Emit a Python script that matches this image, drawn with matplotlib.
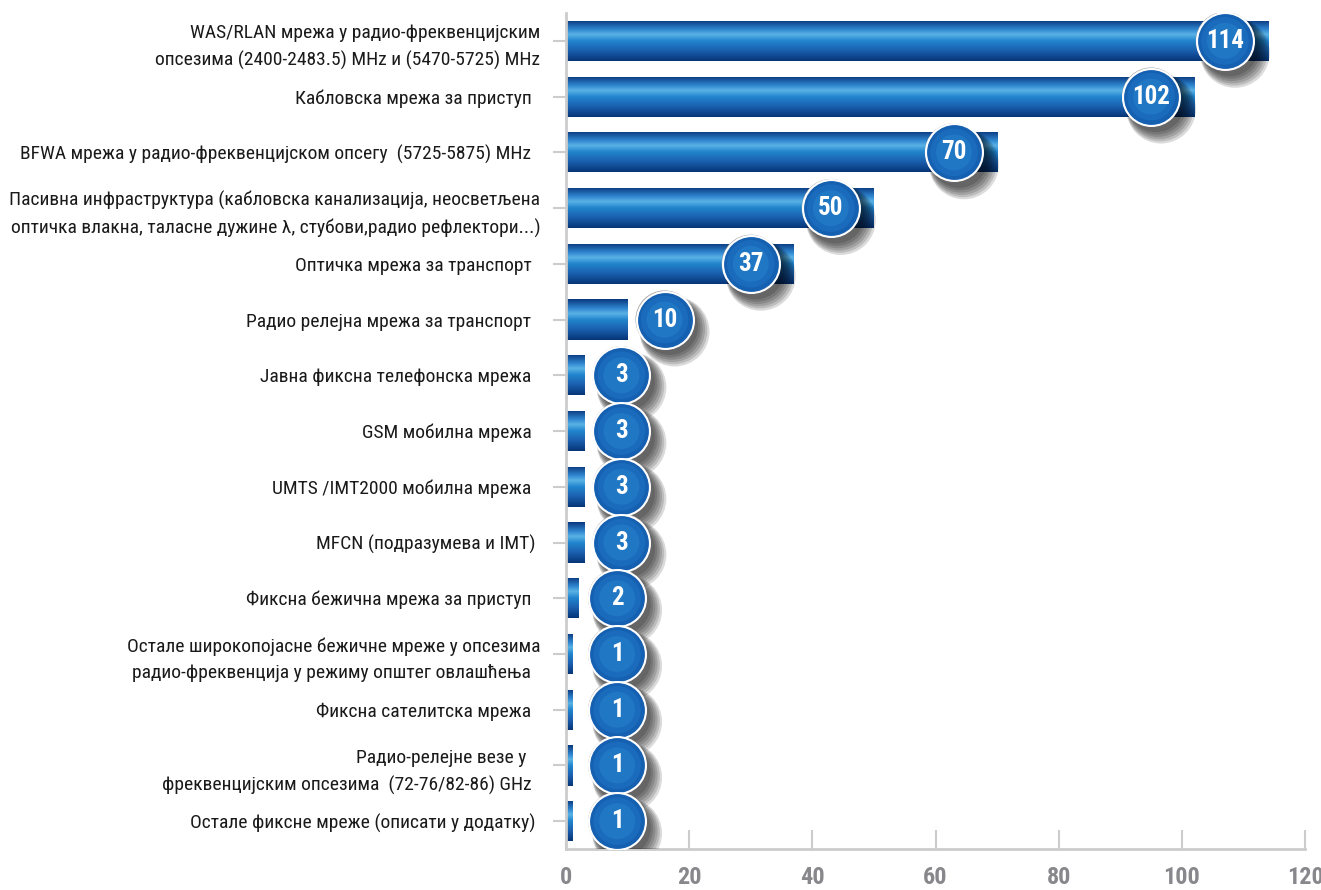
import numpy as np
import matplotlib
matplotlib.use('Agg')
import matplotlib.pyplot as plt
import matplotlib.transforms as mtransforms
from matplotlib.colors import LinearSegmentedColormap

labels = [
    'WAS/RLAN мрежа у радио-фреквенцијским\nопсезима (2400-2483.5) MHz и (5470-5725) MHz',
    'Кабловска мрежа за приступ  ',
    'BFWA мрежа у радио-фреквенцијском опсегу  (5725-5875) MHz  ',
    'Пасивна инфраструктура (кабловска канализација, неосветљена\nоптичка влакна, таласне дужине λ, стубови,радио рефлектори...)',
    'Оптичка мрежа за транспорт  ',
    'Радио релејна мрежа за транспорт  ',
    'Јавна фиксна телефонска мрежа  ',
    'GSM мобилна мрежа  ',
    'UMTS /IMT2000 мобилна мрежа  ',
    'MFCN (подразумева и IMT) ',
    'Фиксна бежична мрежа за приступ  ',
    'Остале широкопојасне бежичне мреже у опсезима\nрадио-фреквенција у режиму општег овлашћења  ',
    'Фиксна сателитска мрежа  ',
    'Радио-релејне везе у   \nфреквенцијским опсезима  (72-76/82-86) GHz  ',
    'Остале фиксне мреже (описати у додатку) ',
]
values = [114, 102, 70, 50, 37, 10, 3, 3, 3, 3, 2, 1, 1, 1, 1]
xticks = [0, 20, 40, 60, 80, 100, 120]

plt.rcParams['font.family'] = ['Roboto Condensed', 'Liberation Sans Narrow', 'DejaVu Sans']

fig = plt.figure(figsize=(13.21, 8.9), dpi=100)
ax = fig.add_axes([0.4285, 0.046, 0.5594, 0.9394])

ypos = np.arange(len(values))
bars = ax.barh(ypos, values, height=0.72, color='none', edgecolor='none')

cmap = LinearSegmentedColormap.from_list('tube', [
    (0.0, '#0a3a80'), (0.22, '#2f86cf'), (0.35, '#5ab2e6'),
    (0.5, '#2286ce'), (0.75, '#1a5fae'), (1.0, '#073677')])
grad = np.linspace(0, 1, 64).reshape(-1, 1)
for b in bars:
    x0, y0 = b.get_x(), b.get_y()
    w, h = b.get_width(), b.get_height()
    im = ax.imshow(grad, cmap=cmap, aspect='auto', origin='upper',
                   extent=(x0, x0 + w, y0 + h, y0), zorder=2)
    im.set_clip_path(b)

# value bubbles with soft drop shadow
cx = [v - 7 if v >= 30 else max(v + 6, 8.3) for v in values]
S = 1680
for k in range(6):
    off = mtransforms.offset_copy(ax.transData, fig, x=5 + k, y=-7 - k, units='dots')
    ax.scatter(cx, ypos, s=S + k * 170, color='black', alpha=0.14,
               edgecolor='none', transform=off, zorder=3)
ax.scatter(cx, ypos, s=S + 80, color='#a8a8a8', edgecolor='none', zorder=4)
ax.scatter(cx, ypos, s=S, color='#1560b0', edgecolor='white', linewidth=1.5, zorder=5)
ax.scatter(cx, ypos, s=S * 0.7, color='#1a6bbb', edgecolor='none', zorder=6)
ax.scatter(cx, ypos, s=S * 0.4, color='#2077c4', edgecolor='none', zorder=7)
for x, y, v in zip(cx, ypos, values):
    ax.text(x, y, str(v), color='white', fontsize=18, fontweight='bold',
            ha='center', va='center', zorder=8)

ax.set_xlim(0, 120)
ax.set_ylim(14.5, -0.5)
ax.set_yticks(ypos)
ax.set_yticklabels(labels, fontsize=14, color='#1a1a1a', multialignment='right',
                   linespacing=1.58)
ax.set_xticks(xticks)
ax.set_xticklabels([str(t) for t in xticks], fontsize=17.5, fontweight='bold', color='#88888c')

for s in ['top', 'right']:
    ax.spines[s].set_visible(False)
for s in ['left', 'bottom']:
    ax.spines[s].set_color('#cccccc')
    ax.spines[s].set_linewidth(2)
ax.tick_params(axis='y', length=9.5, width=1.5, color='#cccccc', pad=9)
ax.tick_params(axis='x', direction='in', length=14, width=1.5, color='#cccccc', pad=12)

fig.savefig('out.png', dpi=100)
